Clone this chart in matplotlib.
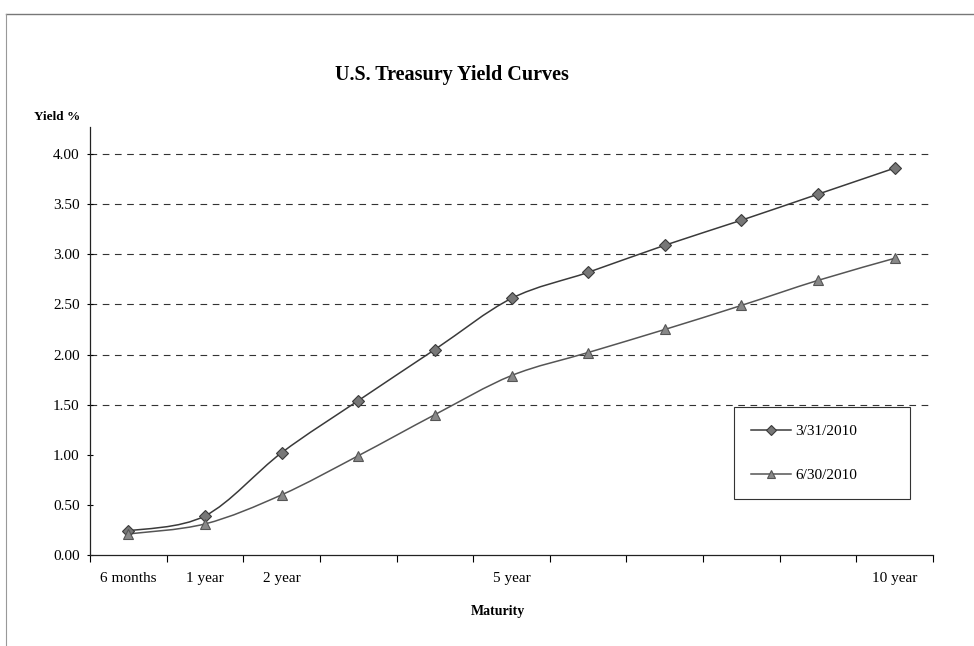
import matplotlib.pyplot as plt
from matplotlib.path import Path
from matplotlib.patches import PathPatch
from matplotlib.lines import Line2D
import numpy as np

plt.rcParams['font.family'] = ['Liberation Serif', 'DejaVu Serif']

# Data
maturities = ['6 months', '1 year', '2 year', '3 year', '4 year', '5 year',
              '6 year', '7 year', '8 year', '9 year', '10 year']
shown_labels = {0: '6 months', 1: '1 year', 2: '2 year', 5: '5 year', 10: '10 year'}
yield_mar = [0.24, 0.39, 1.02, 1.54, 2.05, 2.56, 2.82, 3.09, 3.34, 3.60, 3.86]
yield_jun = [0.21, 0.31, 0.60, 0.99, 1.40, 1.79, 2.02, 2.25, 2.49, 2.74, 2.96]
grid_levels = [1.5, 2.0, 2.5, 3.0, 3.5, 4.0]


def smooth_path(xs, ys):
    # Catmull-Rom style bezier through the points (like Excel smoothed lines)
    pts = np.column_stack([xs, ys]).astype(float)
    ext = np.vstack([pts[0], pts, pts[-1]])
    verts = [tuple(pts[0])]
    codes = [Path.MOVETO]
    for i in range(1, len(ext) - 2):
        p0, p1, p2, p3 = ext[i - 1], ext[i], ext[i + 1], ext[i + 2]
        c1 = p1 + (p2 - p0) / 6.0
        c2 = p2 - (p3 - p1) / 6.0
        verts += [tuple(c1), tuple(c2), tuple(p2)]
        codes += [Path.CURVE4] * 3
    return Path(verts, codes)


fig = plt.figure(figsize=(9.74, 6.46), dpi=100)
ax = fig.add_axes([90 / 974, 1 - 555 / 646, 843 / 974, 428 / 646])

x = np.arange(len(maturities))

# dashed grid lines
for g in grid_levels:
    ax.axhline(g, color='#333333', lw=0.8, ls=(0, (6, 5)), zorder=1)

series = [
    (yield_mar, 'D', '#3a3a3a', '#777777', '3/31/2010', 6.3),
    (yield_jun, '^', '#555555', '#888888', '6/30/2010', 7.5),
]
for ys, mk, lc, fc, lab, ms in series:
    ax.add_patch(PathPatch(smooth_path(x, ys), fill=False, edgecolor=lc,
                           lw=1.1, zorder=2))
    ax.plot(x, ys, ls='none', marker=mk, ms=ms, mfc=fc, mec=lc, mew=0.8,
            zorder=3)
    ax.plot([], [], color=lc, lw=1.1, marker=mk, ms=ms * 0.8, mfc=fc,
            mec=lc, mew=0.8, label=lab)

ax.set_xlim(-0.5, len(maturities) - 0.5)
ax.set_ylim(0, 4.27)

ax.set_xticks(np.arange(len(maturities) + 1) - 0.5)
ax.set_xticklabels([])
ax.set_xticks(x, minor=True)
ax.set_xticklabels([shown_labels.get(i, '') for i in x], minor=True)
ax.tick_params(axis='x', which='major', length=5, width=0.8, direction='out')
ax.tick_params(axis='x', which='minor', length=0, pad=12, labelsize=11)

ax.set_yticks(np.arange(0, 4.01, 0.5))
ax.set_yticklabels(['%.2f' % v for v in np.arange(0, 4.01, 0.5)])
ax.tick_params(axis='y', length=5, width=0.8, direction='inout', labelsize=11,
               pad=5)

for s in ['top', 'right']:
    ax.spines[s].set_visible(False)
for s in ['left', 'bottom']:
    ax.spines[s].set_color('#222222')
    ax.spines[s].set_linewidth(0.9)

leg = ax.legend(loc='lower left', bbox_to_anchor=(0.764, 0.131, 0.209, 0.212),
                mode='expand', borderaxespad=0, fontsize=11, labelspacing=2.0,
                borderpad=1.1, handlelength=2.6, handletextpad=0.3,
                fancybox=False, framealpha=1, edgecolor='#333333')
leg.get_frame().set_linewidth(0.8)

fig.text(452 / 974, 1 - 75 / 646, 'U.S. Treasury Yield Curves', ha='center',
         va='center', fontsize=14.5, fontweight='bold')
fig.text(34 / 974, 1 - 117 / 646, 'Yield %', ha='left', va='center',
         fontsize=9.5, fontweight='bold')
fig.text(498 / 974, 1 - 612 / 646, 'Maturity', ha='center', va='center',
         fontsize=10, fontweight='bold')

# outer chart frame (top and left edges visible in the scan)
fig.add_artist(Line2D([6 / 974, 1], [1 - 14 / 646, 1 - 14 / 646],
                      color='#777777', lw=1))
fig.add_artist(Line2D([6 / 974, 6 / 974], [0, 1 - 14 / 646],
                      color='#999999', lw=0.8))

fig.savefig('out.png', dpi=100)
